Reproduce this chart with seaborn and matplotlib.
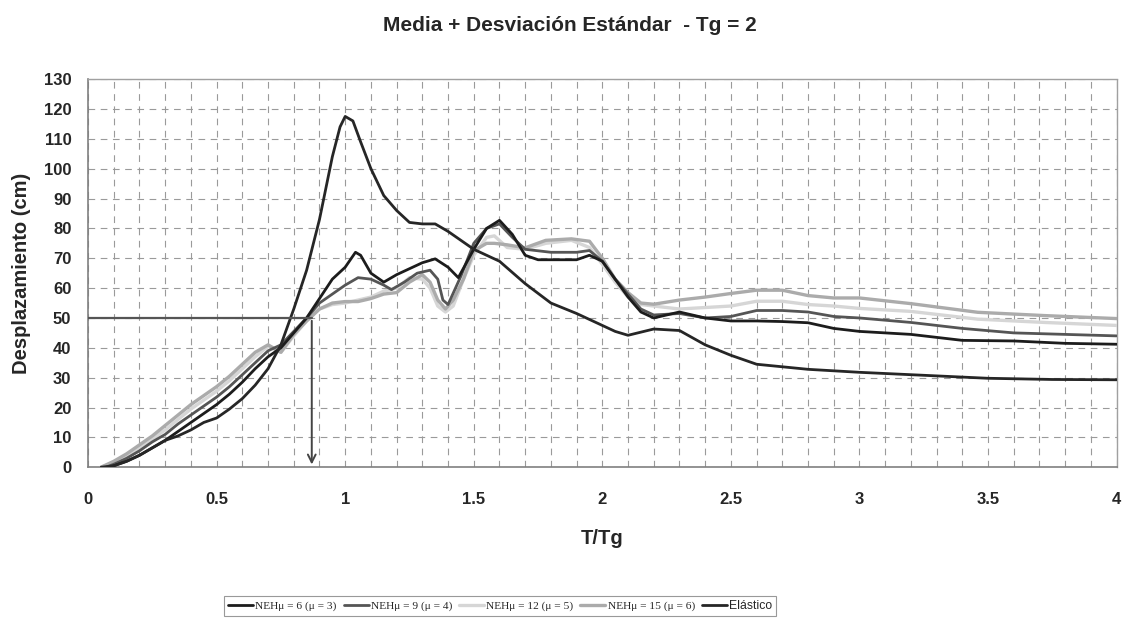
import numpy as np
import pandas as pd
import matplotlib
matplotlib.use("Agg")
import matplotlib.pyplot as plt
import seaborn as sns
from matplotlib.ticker import MultipleLocator

# ---- data ----
x_el = [0.05,0.1,0.15,0.2,0.25,0.3,0.35,0.4,0.45,0.5,0.55,0.6,0.65,0.7,0.75,0.8,0.85,0.9,0.95,0.98,1.0,
        1.03,1.06,1.1,1.15,1.2,1.25,1.3,1.35,1.4,1.45,1.5,1.6,1.7,1.8,1.9,2.0,2.05,2.1,2.2,2.3,2.4,2.5,
        2.6,2.8,3.0,3.25,3.5,3.75,4.0]
y_el = [0,0.5,2,4,6.5,9,10.5,12.5,15,16.5,19.5,23,27.5,33,41,53,66,83,104,114,117.5,
        116,109,100,91,86,82,81.5,81.5,79,76,73,69,61.5,55,51.5,47.5,45.5,44.2,46.3,45.8,41,37.5,
        34.5,32.8,31.8,30.8,29.8,29.4,29.3]

x3 = [0.08,0.1,0.15,0.2,0.25,0.3,0.35,0.4,0.45,0.5,0.55,0.6,0.65,0.7,0.75,0.8,0.85,0.9,0.95,1.0,
      1.04,1.06,1.1,1.15,1.2,1.25,1.3,1.35,1.4,1.44,1.5,1.55,1.6,1.65,1.7,1.75,1.8,1.9,1.95,2.0,
      2.05,2.1,2.15,2.2,2.3,2.4,2.5,2.6,2.7,2.8,2.9,3.0,3.2,3.4,3.6,3.8,4.0]
y3 = [0,0.5,2,4,6.5,9,12,15,18,21,24.5,28.5,33,37,40,45,50,56.5,63,67,
      72,71,65,62,64.5,66.5,68.5,69.8,67,63.5,73,80,82.7,78,71,69.5,69.5,69.5,71,69,
      63,57,52,50,52,50,49,49,48.8,48.4,46.5,45.5,44.5,42.5,42.3,41.5,41.2]

x4 = [0.07,0.1,0.15,0.2,0.25,0.3,0.35,0.4,0.45,0.5,0.55,0.6,0.65,0.7,0.75,0.8,0.85,0.9,0.95,1.0,
      1.05,1.1,1.15,1.18,1.23,1.28,1.33,1.36,1.38,1.4,1.45,1.5,1.55,1.6,1.65,1.7,1.8,1.9,1.95,2.0,
      2.05,2.1,2.15,2.2,2.3,2.4,2.5,2.6,2.7,2.8,2.9,3.0,3.2,3.4,3.6,3.8,4.0]
y4 = [0,1,3,5.5,8.5,11,14.5,17.5,20.5,23.5,27,31,35,39,41,45.5,50,55,58,61,
      63.5,63,61,59.5,62,65,66,63,56,54.5,64,75,80,81.5,77,73,72,72,72.6,69,
      63,58,53,51,51.5,50,50.5,52.5,52.5,52,50.5,50,48.5,46.5,45,44.5,44]

x5 = [0.05,0.1,0.15,0.2,0.25,0.3,0.35,0.4,0.45,0.5,0.55,0.6,0.65,0.7,0.75,0.8,0.85,0.9,0.95,1.0,
      1.05,1.1,1.15,1.2,1.25,1.3,1.33,1.36,1.39,1.42,1.46,1.5,1.55,1.58,1.63,1.7,1.78,1.88,1.95,2.0,
      2.05,2.1,2.15,2.2,2.3,2.4,2.5,2.6,2.7,2.8,2.9,3.0,3.2,3.46,3.72,4.0]
y5 = [0,1.5,3.5,6.5,9.5,12.5,16,19.5,22.5,25.5,29,33,37,40.5,38.5,44,49,53,54.5,55,
      56,57,59,60,63.5,63,60,54,52,54,63,71,77,77.5,73.6,73,75,76,73.6,68,
      62,57,54.5,54,53,53.5,54,55.6,55.6,54.5,54,53.2,52.2,49.6,48.5,47.5]

x6 = x5
y6 = [0,2,4.5,7.5,10.5,14,17.5,21,24,27,30.5,34.5,38.5,41,38.5,44.5,49,53,55,55.5,
      55.5,56.5,58,58.5,62,64.5,62,56,53,56,63,72.5,75,75,74.5,73.5,76,76.5,75.7,70,
      63,58.5,55,54.6,56,57,58.2,59.3,59.3,57.5,56.7,56.7,54.8,51.9,50.8,49.8]

labels = ["NEHμ = 6 (μ = 3)", "NEHμ = 9 (μ = 4)", "NEHμ = 12 (μ = 5)", "NEHμ = 15 (μ = 6)", "Elástico"]
series_x = [x3, x4, x5, x6, x_el]
series_y = [y3, y4, y5, y6, y_el]
colors = ["#1c1c1c", "#555555", "#d6d6d6", "#ababab", "#262626"]
widths = [2.0, 2.0, 2.4, 2.4, 2.0]

x_ticks = [0, 0.5, 1, 1.5, 2, 2.5, 3, 3.5, 4]
x_tick_labels = ["0", "0.5", "1", "1.5", "2", "2.5", "3", "3.5", "4"]
y_ticks = list(range(0, 131, 10))
target_T, target_D = 0.87, 50

df = pd.concat([pd.DataFrame({"T/Tg": sx, "D": sy, "serie": lab})
                for sx, sy, lab in zip(series_x, series_y, labels)], ignore_index=True)

sns.set_theme(style="white")
plt.rcParams["font.family"] = ["Liberation Sans", "DejaVu Sans"]

fig = plt.figure(figsize=(11.29, 6.23), dpi=100)
ax = fig.add_axes([0.078, 0.25, 0.911, 0.623])

for lab, col, lw, z in zip(labels, colors, widths, [6, 5, 3, 4, 7]):
    sns.lineplot(data=df[df["serie"] == lab], x="T/Tg", y="D", color=col, linewidth=lw,
                 ax=ax, label=lab, estimator=None, sort=False, zorder=z)

ax.set_xlim(0, 4)
ax.set_ylim(0, 130)
ax.set_xticks(x_ticks)
ax.set_xticklabels(x_tick_labels)
ax.set_yticks(y_ticks)
ax.xaxis.set_minor_locator(MultipleLocator(0.1))
ax.grid(True, which="major", axis="y", color="#9a9a9a", linestyle=(0, (6, 5)), linewidth=0.8)
ax.grid(True, which="both", axis="x", color="#9a9a9a", linestyle=(0, (6, 5)), linewidth=0.8)
ax.tick_params(axis="both", which="major", labelsize=12, direction="inout", length=6,
               color="#808080", width=0.8)
ax.tick_params(axis="x", which="minor", length=0)
for t in ax.get_xticklabels() + ax.get_yticklabels():
    t.set_fontweight("bold")
ax.tick_params(axis="x", pad=15)
ax.tick_params(axis="y", pad=9)

for s in ["left", "bottom"]:
    ax.spines[s].set_color("#808080")
    ax.spines[s].set_linewidth(1.2)
for s in ["top", "right"]:
    ax.spines[s].set_color("#a0a0a0")
    ax.spines[s].set_linestyle((0, (1, 1)))
    ax.spines[s].set_linewidth(1.0)

# target lines
ax.plot([0, target_T], [target_D, target_D], color="#555555", linewidth=1.6, zorder=8)
ax.annotate("", xy=(target_T, 0), xytext=(target_T, target_D),
            arrowprops=dict(arrowstyle="->", color="#444444", lw=1.4, mutation_scale=14), zorder=8)

ax.set_xlabel("T/Tg", fontsize=14.5, fontweight="bold", labelpad=16)
ax.set_ylabel("Desplazamiento (cm)", fontsize=14.5, fontweight="bold", labelpad=9)
fig.suptitle("Media + Desviación Estándar  - Tg = 2", x=0.505, y=0.975, fontsize=15, fontweight="bold")

ax.get_legend().remove()
handles, labs = ax.get_legend_handles_labels()
leg = fig.legend(handles, labs, loc="center", bbox_to_anchor=(0.443, 0.027), ncol=5,
                 frameon=True, fancybox=False, edgecolor="#808080",
                 handlelength=2.2, handletextpad=0.2, columnspacing=0.6, borderpad=0.35,
                 prop={"family": ["Liberation Serif", "DejaVu Serif"], "size": 8.2})
leg.get_frame().set_linewidth(0.8)
leg.get_texts()[-1].set_fontfamily(["Liberation Sans", "DejaVu Sans"])
leg.get_texts()[-1].set_fontsize(8.8)

fig.savefig("out.png", dpi=100)
